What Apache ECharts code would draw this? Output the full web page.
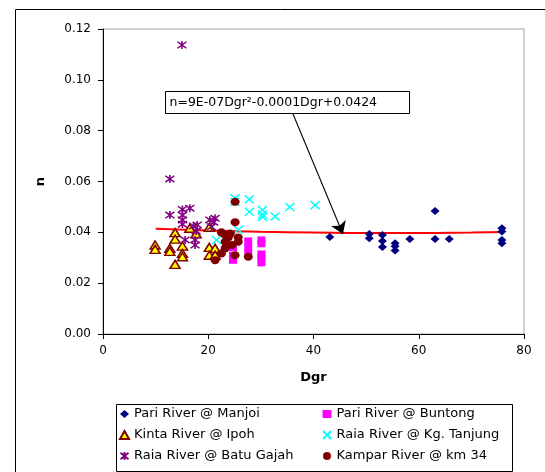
<!DOCTYPE html>
<html><head><meta charset="utf-8">
<script src="https://cdn.jsdelivr.net/npm/echarts@6/dist/echarts.min.js"></script>
<style>html,body{margin:0;padding:0;background:#fff}#c{width:545px;height:472px}</style>
</head><body><div id="c"></div>
<script>
const seriesNames = ['Pari River @ Manjoi','Kinta River @ Ipoh','Raia River @ Batu Gajah','Pari River @ Buntong','Raia River @ Kg. Tanjung','Kampar River @ km 34'];
const yTicks = [0, 0.02, 0.04, 0.06, 0.08, 0.10, 0.12];
const xTicks = [0, 20, 40, 60, 80];
const manjoi = [[43.1,0.0382],[50.6,0.0393],[50.6,0.0377],[53.1,0.039],[53.1,0.0366],[53.1,0.0342],[55.5,0.0357],[55.5,0.0345],[55.5,0.0329],[58.3,0.0374],[63.1,0.0484],[63.1,0.0374],[65.8,0.0374],[75.8,0.0416],[75.8,0.0403],[75.8,0.037],[75.8,0.0357]];
const buntong = [[21.5,0.031],[24.7,0.034],[24.7,0.031],[24.7,0.029],[27.6,0.0366],[27.6,0.034],[27.6,0.0315],[30.1,0.037],[30.1,0.0355],[30.1,0.0315],[30.1,0.030],[30.1,0.028]];
const kinta = [[9.9,0.035],[9.9,0.0333],[12.7,0.0337],[12.7,0.0325],[13.7,0.0399],[13.7,0.0373],[13.7,0.0274],[15.1,0.0346],[15.1,0.0317],[15.1,0.0304],[16.5,0.0416],[17.7,0.0394],[20.2,0.042],[20.2,0.0341],[20.2,0.031],[21.3,0.0337],[21.3,0.031]];
const tanjung = [[25.1,0.0534],[25.1,0.052],[27.8,0.053],[27.8,0.0481],[30.3,0.0488],[30.3,0.047],[30.3,0.046],[32.7,0.0462],[35.5,0.050],[40.3,0.0507],[21.6,0.037],[25.7,0.041]];
const batuGajah = [[15.0,0.1137],[12.7,0.061],[12.7,0.0468],[15.1,0.049],[15.1,0.0468],[15.1,0.0449],[15.1,0.0432],[16.5,0.0495],[17.2,0.0425],[17.9,0.0429],[17.7,0.0405],[15.6,0.037],[17.5,0.037],[17.5,0.035],[20.3,0.0449],[21.3,0.0455],[20.6,0.0422],[21.0,0.044]];
const kampar = [[25.1,0.052],[25.1,0.044],[22.5,0.040],[23.2,0.039],[23.8,0.038],[25.7,0.038],[25.7,0.0363],[24.5,0.035],[23.2,0.0337],[22.5,0.0317],[21.3,0.029],[25.1,0.031],[27.6,0.0304],[23.2,0.0363],[24.2,0.0395]];
const trend = [[10,0.0414],[20,0.0407],[30,0.0402],[40,0.0399],[50,0.0397],[60,0.0397],[70,0.0399],[76,0.0401]];
const trendLabel = 'n=9E-07Dgr\u00B2-0.0001Dgr+0.0424';

const FONT = 'DejaVu Sans';
const xShape = 'path://M0,0L10,10M10,0L0,10';
const starShape = 'path://M5,0L5,10M0,1L10,9M10,1L0,9';

const chart = echarts.init(document.getElementById('c'), null, {renderer:'canvas'});
const legendCommon = {orient:'vertical', top:407, padding:0, itemGap:7, itemWidth:9, itemHeight:8,
  textStyle:{fontFamily:FONT, fontSize:13, color:'#000', lineHeight:14}, selectedMode:false};
chart.setOption({
  animation:false,
  backgroundColor:'#fff',
  textStyle:{fontFamily:FONT},
  grid:{left:103, top:29, right:21, bottom:138, show:true, borderColor:'#a0a0a0', borderWidth:1, containLabel:false, outerBoundsMode:'none'},
  xAxis:{type:'value', min:0, max:80, interval:20, name:'Dgr', nameLocation:'middle', nameGap:37,
    nameTextStyle:{fontFamily:FONT, fontWeight:'bold', fontSize:13, color:'#000'},
    axisLine:{show:true, lineStyle:{color:'#000', width:1}}, axisTick:{show:true, inside:false, length:5, lineStyle:{color:'#000'}},
    axisLabel:{fontFamily:FONT, fontSize:12, color:'#000', margin:11, formatter:v=>xTicks.includes(v)?String(v):''}, splitLine:{show:false}},
  yAxis:{type:'value', min:0, max:0.12, interval:0.02, name:'n', nameLocation:'middle', nameGap:56, nameRotate:90,
    nameTextStyle:{fontFamily:FONT, fontWeight:'bold', fontSize:13, color:'#000'},
    axisLine:{show:true, lineStyle:{color:'#000', width:1}}, axisTick:{show:true, inside:false, length:5, lineStyle:{color:'#000'}},
    axisLabel:{fontFamily:FONT, fontSize:12, color:'#000', margin:12, formatter:v=>{const t=yTicks.find(k=>Math.abs(k-v)<1e-9);return t===undefined?'':t.toFixed(2);}}, splitLine:{show:false}},
  legend:[
    Object.assign({data:[seriesNames[0],seriesNames[1],seriesNames[2]], left:119}, legendCommon),
    Object.assign({data:[seriesNames[3],seriesNames[4],seriesNames[5]], left:322}, legendCommon)
  ],
  graphic:[
    {type:'rect', left:13, top:7, z:-10, shape:{x:0,y:0,width:545,height:470}, style:{fill:'none', stroke:'#000', lineWidth:1}},
    {type:'rect', left:114, top:402, shape:{x:0,y:0,width:396,height:67}, style:{fill:'none', stroke:'#000', lineWidth:1}},
    {type:'group', left:165, top:91, children:[
      {type:'rect', shape:{x:0,y:0,width:244,height:22}, style:{fill:'#fff', stroke:'#000', lineWidth:1}},
      {type:'text', x:4, y:11, style:{text:trendLabel, font:'12.5px "DejaVu Sans"', fill:'#000', verticalAlign:'middle'}}
    ]}
  ],
  series:[
    {name:'trend', type:'line', data:trend, smooth:true, showSymbol:false, symbol:'none', lineStyle:{color:'#ff0000', width:2, opacity:1}, z:1,
     markLine:{silent:true, symbol:['none','arrow'], symbolSize:12, animation:false, label:{show:false},
       lineStyle:{color:'#000', width:1.2, type:'solid', opacity:1},
       data:[[{coord:[36.1,0.0866]},{coord:[45.6,0.0393]}]]}},
    {name:seriesNames[0], type:'scatter', data:manjoi, symbol:'diamond', symbolSize:[9,8], itemStyle:{color:'#000080', opacity:1}, z:3},
    {name:seriesNames[3], type:'scatter', data:buntong, symbol:'rect', symbolSize:[8,7], itemStyle:{color:'#ff00ff', opacity:1}, z:3},
    {name:seriesNames[1], type:'scatter', data:kinta, symbol:'triangle', symbolSize:[10,8], itemStyle:{color:'#ffff00', borderColor:'#800000', borderWidth:1.5, opacity:1}, z:3},
    {name:seriesNames[4], type:'scatter', data:tanjung, symbol:xShape, symbolSize:[9,8], itemStyle:{color:'rgba(0,0,0,0)', borderColor:'#00ffff', borderWidth:1.5, opacity:1}, z:3},
    {name:seriesNames[2], type:'scatter', data:batuGajah, symbol:starShape, symbolSize:[9,8], itemStyle:{color:'rgba(0,0,0,0)', borderColor:'#800080', borderWidth:1.5, opacity:1}, z:3},
    {name:seriesNames[5], type:'scatter', data:kampar, symbol:'circle', symbolSize:[9,8], itemStyle:{color:'#800000', opacity:1}, z:4}
  ]
});
</script>
</body></html>
